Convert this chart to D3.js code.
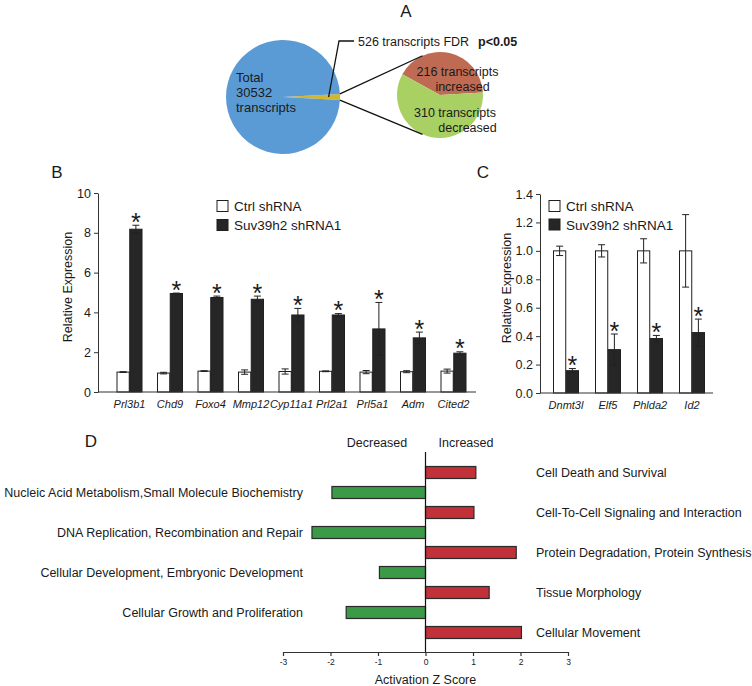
<!DOCTYPE html>
<html><head><meta charset="utf-8">
<script src="https://cdn.jsdelivr.net/npm/d3@7"></script>
<style>
body{margin:0;background:#fff}
svg{display:block}
text{font-family:"Liberation Sans",Arial,Helvetica,sans-serif;fill:#1a1a1a}
</style>
</head><body>
<svg id="chart" width="752" height="686"></svg>
<script>
// ---------- Panel A data ----------
const overviewNames = ["526 transcripts FDR", "other transcripts"];
const overviewValues = [526, 30006]; // total 30532
const totalLines = ["Total", "30532", "transcripts"];
const changeNames = ["216 transcripts increased", "310 transcripts decreased"];
const changeValues = [216, 310];
const pieColors = ["#d2b72a", "#5b9bd5"];
const changeColors = ["#bf6a52", "#a8d063"];

// ---------- Panel B data ----------
const seriesNames = ["Ctrl shRNA", "Suv39h2 shRNA1"];
const genesB = ["Prl3b1", "Chd9", "Foxo4", "Mmp12", "Cyp11a1", "Prl2a1", "Prl5a1", "Adm", "Cited2"];
const ctrlB = [1.0, 0.95, 1.05, 1.0, 1.03, 1.04, 1.0, 1.02, 1.05];
const ctrlBErr = [0.02, 0.04, 0.02, 0.11, 0.13, 0.02, 0.08, 0.05, 0.1];
const suvB = [8.18, 4.95, 4.75, 4.66, 3.87, 3.87, 3.17, 2.72, 1.95];
const suvBErr = [0.2, 0.02, 0.07, 0.16, 0.33, 0.07, 1.33, 0.29, 0.07];
const ticksB = [0, 2, 4, 6, 8, 10];

// ---------- Panel C data ----------
const genesC = ["Dnmt3l", "Elf5", "Phlda2", "Id2"];
const ctrlC = [1.0, 1.0, 1.0, 1.0];
const ctrlCErr = [0.033, 0.043, 0.085, 0.255];
const suvC = [0.157, 0.305, 0.383, 0.425];
const suvCErr = [0.015, 0.11, 0.022, 0.095];
const ticksC = [0, 0.2, 0.4, 0.6, 0.8, 1.0, 1.2, 1.4];

// ---------- Panel D data ----------
const pathways = ["Cell Death and Survival",
  "Nucleic Acid Metabolism,Small Molecule Biochemistry",
  "Cell-To-Cell Signaling and Interaction",
  "DNA Replication, Recombination and Repair",
  "Protein Degradation, Protein Synthesis",
  "Cellular Development, Embryonic Development",
  "Tissue Morphology",
  "Cellular Growth and Proliferation",
  "Cellular Movement"];
const zScores = [1.06, -1.97, 1.02, -2.39, 1.91, -0.97, 1.34, -1.67, 2.02];
const zTicks = [-3, -2, -1, 0, 1, 2, 3];

const svg = d3.select("#chart");
const ink = "#1f1f1f";

function panelLabel(t, x, y) {
  svg.append("text").attr("x", x).attr("y", y).attr("text-anchor", "middle")
    .style("font-size", "17px").text(t);
}

// ================= Panel A =================
panelLabel("A", 406, 17);
const gA = svg.append("g");
const bigC = [283, 97], bigR = 57;
const span = 2 * Math.PI * overviewValues[0] / d3.sum(overviewValues);
const a0 = Math.PI / 2 - span / 2;
const bigArcs = d3.pie().sort(null).startAngle(a0).endAngle(a0 + 2 * Math.PI)(overviewValues);
const bigArc = d3.arc().innerRadius(0).outerRadius(bigR);
gA.append("g").attr("transform", `translate(${bigC})`)
  .selectAll("path").data(bigArcs).join("path")
  .attr("d", bigArc).attr("fill", (d, i) => pieColors[i]);

const smC = [440, 95], smR = 43;
const s0 = -61 * Math.PI / 180;
const smArcs = d3.pie().sort(null).startAngle(s0).endAngle(s0 + 2 * Math.PI)(changeValues);
const smArc = d3.arc().innerRadius(0).outerRadius(smR);
gA.append("g").attr("transform", `translate(${smC})`)
  .selectAll("path").data(smArcs).join("path")
  .attr("d", smArc).attr("fill", (d, i) => changeColors[i]);

const pt = (c, r, a) => [c[0] + r * Math.sin(a), c[1] - r * Math.cos(a)];
const wedge = bigArcs[0];
const conn = [
  [pt(bigC, bigR, wedge.startAngle), pt(smC, smR, -24 * Math.PI / 180)],
  [pt(bigC, bigR, wedge.endAngle), pt(smC, smR, 204 * Math.PI / 180)]
];
gA.selectAll("line.conn").data(conn).join("line").attr("class", "conn")
  .attr("x1", d => d[0][0]).attr("y1", d => d[0][1])
  .attr("x2", d => d[1][0]).attr("y2", d => d[1][1])
  .attr("stroke", "#111").attr("stroke-width", 1.3);

const callStart = pt(bigC, bigR * 0.8, (wedge.startAngle + wedge.endAngle) / 2);
gA.append("path")
  .attr("d", `M${callStart[0]},${callStart[1]} L339,41 L354,41`)
  .attr("fill", "none").attr("stroke", "#111").attr("stroke-width", 1.3);
gA.append("text").attr("x", 358).attr("y", 45.5).style("font-size", "12.5px").text(overviewNames[0]);
gA.append("text").attr("x", 478).attr("y", 45.5).style("font-size", "12.5px")
  .style("font-weight", "bold").text("p<0.05");

gA.selectAll("text.tot").data(totalLines).join("text").attr("class", "tot")
  .attr("x", 236).attr("y", (d, i) => 81.5 + i * 15.3)
  .style("font-size", "13px").text(d => d);

const smLines = [
  ["216 transcripts", 457.5, 75.5], ["increased", 462.5, 90.5],
  ["310 transcripts", 455, 117], ["decreased", 467.5, 131.5]
];
gA.selectAll("text.sm").data(smLines).join("text").attr("class", "sm")
  .attr("x", d => d[1]).attr("y", d => d[2]).attr("text-anchor", "middle")
  .style("font-size", "12.5px").text(d => d[0]);

// ================= grouped bar helper =================
function barPanel(opt) {
  const g = svg.append("g");
  const y = d3.scaleLinear().domain(opt.domain).range(opt.yRange);
  const x = d3.scaleBand().domain(opt.genes).range(opt.xRange);
  const xs = d3.scaleBand().domain(seriesNames).range([-12.5, 12.5]).paddingInner(0.04);
  const rows = [];
  opt.genes.forEach((gname, i) => {
    rows.push({gene: gname, s: seriesNames[0], v: opt.ctrl[i], e: opt.ctrlErr[i]});
    rows.push({gene: gname, s: seriesNames[1], v: opt.suv[i], e: opt.suvErr[i]});
  });
  const cx = d => x(d.gene) + x.bandwidth() / 2 + xs(d.s);
  // bars
  g.selectAll("rect.bar").data(rows).join("rect").attr("class", "bar")
    .attr("x", cx).attr("width", xs.bandwidth())
    .attr("y", d => y(d.v)).attr("height", d => y(0) - y(d.v))
    .attr("fill", d => d.s === seriesNames[0] ? "#ffffff" : "#262626")
    .attr("stroke", ink).attr("stroke-width", 1);
  // error bars
  const eb = g.selectAll("g.err").data(rows).join("g").attr("class", "err")
    .attr("stroke", "#222").attr("stroke-width", 1);
  const mid = d => cx(d) + xs.bandwidth() / 2;
  eb.append("line").attr("x1", mid).attr("x2", mid)
    .attr("y1", d => y(d.v + d.e)).attr("y2", d => y(d.v - d.e));
  eb.append("line").attr("x1", d => mid(d) - 3.5).attr("x2", d => mid(d) + 3.5)
    .attr("y1", d => y(d.v + d.e)).attr("y2", d => y(d.v + d.e));
  eb.append("line").attr("x1", d => mid(d) - 3.5).attr("x2", d => mid(d) + 3.5)
    .attr("y1", d => y(d.v - d.e)).attr("y2", d => y(d.v - d.e));
  // stars
  g.selectAll("text.star").data(rows.filter(d => d.s === seriesNames[1])).join("text")
    .attr("class", "star").attr("x", mid).attr("y", d => y(d.v + d.e) + 5.5)
    .attr("text-anchor", "middle").style("font-size", "25px").text("*");
  // y axis
  const ya = g.append("g").attr("transform", `translate(${opt.axisX},0)`)
    .call(d3.axisLeft(y).tickValues(opt.ticks).tickSize(4).tickSizeOuter(0).tickPadding(3)
      .tickFormat(opt.fmt));
  ya.selectAll("text").style("font-size", "12.5px").style("font-family", '"Liberation Sans",Arial,sans-serif').attr("fill", "#1a1a1a");
  ya.selectAll("line,path").attr("stroke", "#333");
  // x axis
  const xa = g.append("g").attr("transform", `translate(0,${y(0)})`)
    .call(d3.axisBottom(x).tickSize(0).tickPadding(8));
  xa.select(".domain").remove();
  xa.selectAll("text").style("font-size", "11px").style("font-style", "italic")
    .style("font-family", '"Liberation Sans",Arial,sans-serif').attr("fill", "#1a1a1a");
  g.append("line").attr("x1", opt.axisX).attr("x2", opt.xEnd)
    .attr("y1", y(0)).attr("y2", y(0)).attr("stroke", "#333").attr("stroke-width", 1.2);
  // y title
  g.append("text").attr("transform", `translate(${opt.titleX},${opt.titleY}) rotate(-90)`)
    .attr("text-anchor", "middle").style("font-size", "12.5px").text("Relative Expression");
  // legend
  const lg = g.selectAll("g.leg").data(seriesNames).join("g").attr("class", "leg")
    .attr("transform", (d, i) => `translate(${opt.legX},${opt.legY + i * opt.legDy})`);
  lg.append("rect").attr("x", 0).attr("y", -5.5).attr("width", 11).attr("height", 11)
    .attr("fill", (d, i) => i === 0 ? "#fff" : "#262626").attr("stroke", ink);
  lg.append("text").attr("x", 17).attr("y", 5).style("font-size", "13.5px").text(d => d);
}

// ================= Panel B =================
panelLabel("B", 57, 178);
barPanel({
  genes: genesB, ctrl: ctrlB, ctrlErr: ctrlBErr, suv: suvB, suvErr: suvBErr,
  domain: [0, 10], yRange: [392, 193], xRange: [109.25, 473.75],
  ticks: ticksB, fmt: d3.format("d"), axisX: 98, xEnd: 476,
  titleX: 72, titleY: 287, legX: 217, legY: 206, legDy: 19
});

// ================= Panel C =================
panelLabel("C", 483, 178);
barPanel({
  genes: genesC, ctrl: ctrlC, ctrlErr: ctrlCErr, suv: suvC, suvErr: suvCErr,
  domain: [0, 1.4], yRange: [393, 194], xRange: [545, 713],
  ticks: ticksC, fmt: d3.format(".1f"), axisX: 540, xEnd: 713,
  titleX: 511, titleY: 288, legX: 549, legY: 206, legDy: 18.5
});

// ================= Panel D =================
panelLabel("D", 91, 447);
const gD = svg.append("g");
const xD = d3.scaleLinear().domain([-3, 3]).range([283, 568]);
const yD = d3.scaleBand().domain(pathways).range([462.5, 642.5]).paddingInner(0.4).paddingOuter(0.2);
gD.selectAll("rect").data(pathways).join("rect")
  .attr("x", (d, i) => xD(Math.min(0, zScores[i])))
  .attr("width", (d, i) => Math.abs(xD(zScores[i]) - xD(0)))
  .attr("y", d => yD(d)).attr("height", yD.bandwidth())
  .attr("fill", (d, i) => zScores[i] > 0 ? "#c2303a" : "#3a9a48")
  .attr("stroke", "#2a2a2a").attr("stroke-width", 1.2);
gD.selectAll("text.pw").data(pathways).join("text").attr("class", "pw")
  .attr("x", (d, i) => zScores[i] > 0 ? 536 : 303)
  .attr("text-anchor", (d, i) => zScores[i] > 0 ? "start" : "end")
  .attr("y", d => yD(d) + yD.bandwidth() / 2 + 4.5)
  .style("font-size", "12.5px").text(d => d);
gD.append("line").attr("x1", xD(0)).attr("x2", xD(0)).attr("y1", 452).attr("y2", 652)
  .attr("stroke", "#111").attr("stroke-width", 1.2);
const xa = gD.append("g").attr("transform", "translate(0,652)")
  .call(d3.axisBottom(xD).tickValues(zTicks).tickSize(4).tickSizeOuter(0).tickPadding(3)
    .tickFormat(d => String(d)));
xa.selectAll("text").style("font-size", "8.5px").style("font-family", '"Liberation Sans",Arial,sans-serif').attr("fill", "#1a1a1a");
xa.selectAll("line,path").attr("stroke", "#333").attr("stroke-width", 1.2);
gD.append("text").attr("x", xD(0)).attr("y", 684).attr("text-anchor", "middle")
  .style("font-size", "12.5px").text("Activation Z Score");
gD.append("text").attr("x", 377).attr("y", 446.5).attr("text-anchor", "middle")
  .style("font-size", "12.5px").text("Decreased");
gD.append("text").attr("x", 466).attr("y", 446.5).attr("text-anchor", "middle")
  .style("font-size", "12.5px").text("Increased");
</script>
</body></html>
